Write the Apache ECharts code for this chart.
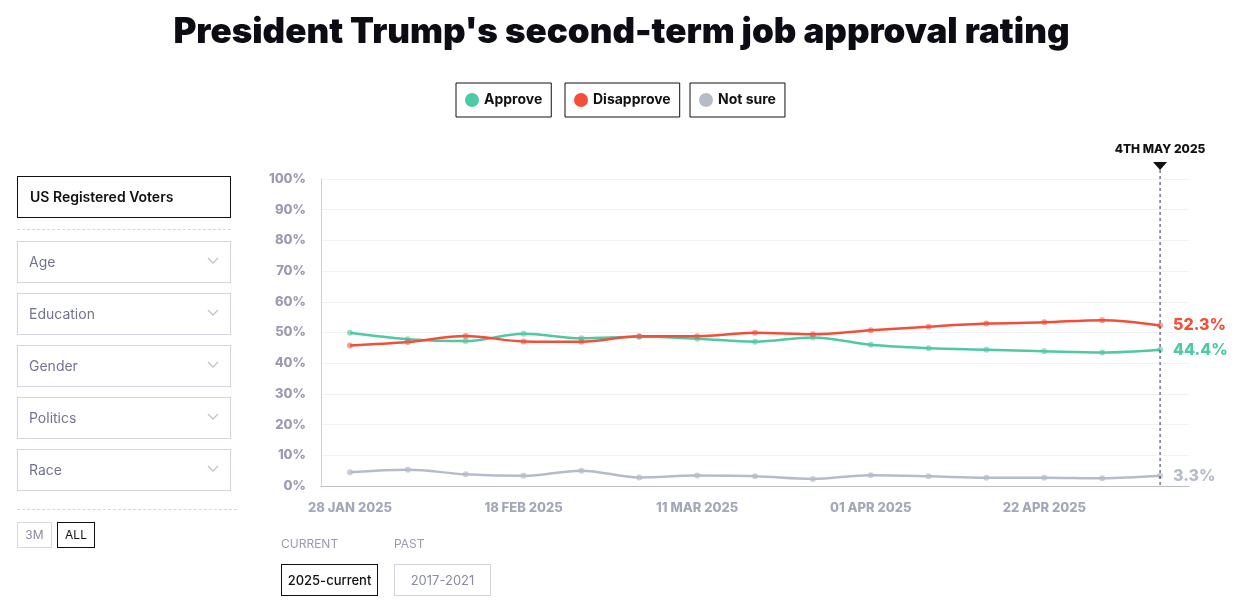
<!DOCTYPE html>
<html>
<head>
<meta charset="utf-8">
<script src="https://cdn.jsdelivr.net/npm/echarts@6/dist/echarts.min.js"></script>
<style>
  html,body{margin:0;padding:0;background:#fff;}
  #wrap{position:relative;width:1243px;height:606px;overflow:hidden;font-family:Inter,"Noto Sans",sans-serif;}
  #chart{position:absolute;left:0;top:0;width:1243px;height:606px;}
  .ui{position:absolute;box-sizing:border-box;}
  .sel{left:17px;width:214px;height:42px;border:1px solid #d3d3de;color:#737391;font-size:14px;line-height:40px;padding-left:11px;}
  .sel svg{position:absolute;right:11px;top:15px;}
  .dash{position:absolute;border-top:1px dashed #d6d6e0;height:0;}
  .btn{position:absolute;box-sizing:border-box;text-align:center;font-size:12px;}
</style>
</head>
<body>
<div id="wrap">
  <div id="chart"></div>
  <div class="ui" style="left:17px;top:176px;width:214px;height:42px;border:1px solid #111;font-size:14px;font-weight:600;line-height:40px;padding-left:12px;color:#111;">US Registered Voters</div>
  <div class="dash" style="left:17px;top:229px;width:214px;"></div>
  <div id="sels"></div>
  <div class="dash" style="left:17px;top:509px;width:220px;"></div>
  <div class="btn" style="left:17px;top:522px;width:35px;height:26px;border:1px solid #d8d8e2;color:#8a8aa2;line-height:24px;">3M</div>
  <div class="btn" style="left:57px;top:522px;width:38px;height:26px;border:1px solid #111;color:#111;line-height:24px;">ALL</div>
  <div class="ui" style="left:281px;top:536px;font-size:12px;color:#9a9ab0;">CURRENT</div>
  <div class="ui" style="left:394px;top:536px;font-size:12px;color:#9a9ab0;">PAST</div>
  <div class="btn" style="left:281px;top:564px;width:97px;height:32px;border:1px solid #111;color:#111;line-height:30px;font-size:13px;font-weight:500;">2025-current</div>
  <div class="btn" style="left:394px;top:564px;width:97px;height:32px;border:1px solid #d3d3de;color:#8a8aa2;line-height:30px;font-size:13px;">2017-2021</div>
</div>
<script>
// ---- data ----
const categories = ['28 JAN 2025','04 FEB 2025','11 FEB 2025','18 FEB 2025','25 FEB 2025','04 MAR 2025','11 MAR 2025','18 MAR 2025','25 MAR 2025','01 APR 2025','08 APR 2025','15 APR 2025','22 APR 2025','29 APR 2025','04 MAY 2025'];
const approve    = [49.9, 47.8, 47.2, 49.6, 48.1, 48.6, 48.0, 47.0, 48.4, 46.0, 44.9, 44.4, 43.9, 43.5, 44.4];
const disapprove = [45.8, 46.9, 48.9, 47.1, 47.0, 48.8, 48.8, 49.9, 49.4, 50.7, 51.9, 52.9, 53.3, 54.0, 52.3];
const notSure    = [4.5, 5.3, 3.8, 3.3, 5.0, 2.8, 3.4, 3.2, 2.3, 3.5, 3.2, 2.7, 2.7, 2.5, 3.3];
const filters = ['Age','Education','Gender','Politics','Race'];
const markerLabel = '4TH MAY 2025';

// left filters (UI)
const sels = document.getElementById('sels');
filters.forEach((f,i)=>{
  const d = document.createElement('div');
  d.className = 'ui sel';
  d.style.top = (241 + i*52) + 'px';
  d.innerHTML = f + '<svg width="12" height="8" viewBox="0 0 12 8"><path d="M1 1 L6 6 L11 1" fill="none" stroke="#c3c3d0" stroke-width="1.4"/></svg>';
  sels.appendChild(d);
});

const FONT = 'Inter, "Noto Sans", sans-serif';
const GREEN = '#4ec9a5', RED = '#f24f38', GREY = '#b6bbca';

function mkSeries(name, data, color, symColor){
  return {
    name, type:'line', data, smooth:0.35, symbol:'circle', symbolSize:6,
    lineStyle:{color, width:2.5},
    itemStyle:{color:symColor},
    emphasis:{disabled:true},
    endLabel:{show:true, distance:13, color, fontFamily:FONT, fontSize:16, fontWeight:800,
      formatter:p=>Number(p.value).toFixed(1)+'%'}
  };
}
function mkLegend(name, left, iconColor){
  return {
    data:[{name, itemStyle:{color:iconColor}}], left, top:83, orient:'horizontal', selectedMode:false,
    icon:'circle', itemWidth:14, itemHeight:14,
    padding:[10,9], borderColor:'#111', borderWidth:1, borderRadius:0,
    textStyle:{color:'#111', fontFamily:FONT, fontSize:14, fontWeight:'bold'}
  };
}

const chart = echarts.init(document.getElementById('chart'));
chart.setOption({
  animation:false,
  title:{text:"President Trump's second-term job approval rating", left:'center', top:10,
    textStyle:{fontFamily:FONT, fontSize:35, fontWeight:900, color:'#0c0c14'}},
  legend:[mkLegend('Approve',456,GREEN), mkLegend('Disapprove',565,'#f44e3b'), mkLegend('Not sure',690,GREY)],
  grid:{left:321, right:54, top:179, bottom:120},
  xAxis:{
    type:'category', data:categories, boundaryGap:true,
    axisLine:{lineStyle:{color:'#b8bccb', width:1}},
    axisTick:{show:false},
    axisLabel:{interval:(i)=> i%3===0 && i<=12, color:'#a3a7ba', fontFamily:FONT, fontSize:13, fontWeight:800, margin:16},
    splitLine:{show:false}
  },
  yAxis:{
    type:'value', min:0, max:100, interval:10,
    axisLine:{show:true, lineStyle:{color:'#cfcfdc'}},
    axisTick:{show:false},
    axisLabel:{formatter:'{value}%', color:'#9d99b3', fontFamily:FONT, fontSize:13, fontWeight:800, margin:15},
    splitLine:{lineStyle:{color:'#f1f1f6'}}
  },
  series:[
    mkSeries('Approve', approve, GREEN, 'rgba(78,201,165,0.6)'),
    mkSeries('Disapprove', disapprove, RED, 'rgba(242,79,56,0.55)'),
    mkSeries('Not sure', notSure, GREY, 'rgba(182,187,202,0.7)')
  ]
});

const lastIdx = categories.length - 1;
const px = chart.convertToPixel({xAxisIndex:0}, lastIdx);
const yTop = chart.convertToPixel({yAxisIndex:0}, 100);
const yBot = chart.convertToPixel({yAxisIndex:0}, 0);
chart.setOption({
  graphic:[
    {type:'line', shape:{x1:px, y1:yTop-9, x2:px, y2:yBot}, style:{stroke:'#2b2e4d', lineWidth:1, lineDash:[3,3]}, z:10},
    {type:'polygon', shape:{points:[[px-7,yTop-17],[px+7,yTop-17],[px,yTop-9]]}, style:{fill:'#111'}, z:10},
    {type:'text', x:px, y:yTop-30, style:{text:markerLabel, fill:'#111', font:'800 12px '+FONT, textAlign:'center', textVerticalAlign:'middle'}, z:10}
  ]
});
</script>
</body>
</html>
